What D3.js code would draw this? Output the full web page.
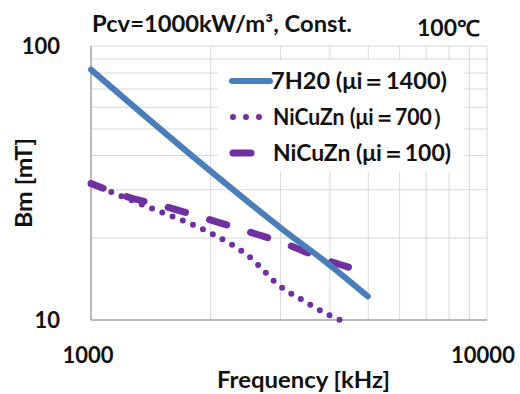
<!DOCTYPE html>
<html>
<head>
<meta charset="utf-8">
<script src="https://cdn.jsdelivr.net/npm/d3@7"></script>
<style>
  body { margin: 0; background: #fff; }
  text { font-family: Lato, "Open Sans", sans-serif; font-weight: bold; fill: #111; }
</style>
</head>
<body>
<svg id="chart" width="520" height="394"></svg>
<script>
// values
const freq7H20 = [1000, 2000, 3000, 4000, 5000];
const bm7H20 = [82, 35, 21.8, 15.9, 12.2];

const freqCu700 = [1000, 1200, 1500, 2000, 2500, 3000, 3500, 4000, 4250];
const bmCu700 = [31.5, 28.2, 24.8, 20.8, 17.1, 13.3, 11.6, 10.4, 10];

const freqCu100 = [1000, 1250, 1500, 2000, 2500, 3000, 4000, 5000];
const bmCu100 = [31.5, 28, 26.2, 23.2, 21, 19.3, 16.4, 14.9];

const seriesNames = ["7H20 (μi＝1400)", "NiCuZn (μi＝700）", "NiCuZn (μi＝100)"];
const xTicks = [1000, 10000];
const yTicks = [10, 100];

const margin = {left: 91, right: 33, top: 46, bottom: 74};
const W = 520, H = 394;
const svg = d3.select('#chart');

const x = d3.scaleLog().domain([1000, 10000]).range([margin.left, W - margin.right]);
const y = d3.scaleLog().domain([10, 100]).range([H - margin.bottom, margin.top]);

// grid
const gridX = d3.range(2000, 10000, 1000);
const gridY = d3.range(20, 100, 10);
svg.append('g')
    .attr('transform', `translate(0,${y(10)})`)
    .call(d3.axisBottom(x).tickValues(gridX).tickSize(-(y(10) - y(100))).tickFormat(''))
    .call(g => g.select('.domain').remove())
    .selectAll('line').attr('stroke', '#d9d9d9');
svg.append('g')
    .attr('transform', `translate(${x(1000)},0)`)
    .call(d3.axisLeft(y).tickValues(gridY).tickSize(-(x(10000) - x(1000))).tickFormat(''))
    .call(g => g.select('.domain').remove())
    .selectAll('line').attr('stroke', '#d9d9d9');

svg.append('rect')
    .attr('x', x(1000)).attr('y', y(100))
    .attr('width', x(10000) - x(1000)).attr('height', y(10) - y(100))
    .attr('fill', 'none').attr('stroke', '#d9d9d9');
svg.append('path')
    .attr('d', `M${x(1000)},${y(100)}V${y(10)}H${x(10000)}`)
    .attr('fill', 'none').attr('stroke', '#868686');

// tick labels
svg.selectAll('.ylab').data(yTicks).enter().append('text')
    .attr('x', 60).attr('y', d => y(d)).attr('dy', '0.36em')
    .attr('text-anchor', 'end').style('font-size', '22px').text(d => d);
svg.selectAll('.xlab').data(xTicks).enter().append('text')
    .attr('x', d => x(d) - (d === 10000 ? 4 : 3)).attr('y', 363)
    .attr('text-anchor', 'middle').style('font-size', '22px').text(d => d);

svg.append('text').attr('x', 217).attr('y', 388)
    .attr('textLength', 173).attr('lengthAdjust', 'spacingAndGlyphs')
    .style('font-size', '22px').text('Frequency [kHz]');
svg.append('text').attr('transform', 'translate(32,228) rotate(-90)')
    .attr('textLength', 90).attr('lengthAdjust', 'spacingAndGlyphs')
    .style('font-size', '22px').text('Bm [mT]');

svg.append('text').attr('x', 92).attr('y', 32)
    .attr('textLength', 260).attr('lengthAdjust', 'spacingAndGlyphs')
    .style('font-size', '22px').text('Pcv=1000kW/m³, Const.');
svg.append('text').attr('x', 417).attr('y', 36)
    .attr('textLength', 63).attr('lengthAdjust', 'spacingAndGlyphs')
    .style('font-size', '22px').text('100℃');

// lines
const blue = '#4a7ebb', purple = '#7030a0';
const line = d3.line().x(d => x(d[0])).y(d => y(d[1])).curve(d3.curveMonotoneX);
const plot = svg.append('g');

plot.append('path')
    .datum(d3.zip(freqCu100, bmCu100))
    .attr('d', line).attr('fill', 'none')
    .attr('stroke', purple).attr('stroke-width', 7)
    .attr('stroke-dasharray', '18,25').attr('stroke-dashoffset', -38)
    .attr('stroke-linecap', 'round');
plot.append('path')
    .datum(d3.zip(freqCu700, bmCu700))
    .attr('d', line).attr('fill', 'none')
    .attr('stroke', purple).attr('stroke-width', 6)
    .attr('stroke-dasharray', '0,11').attr('stroke-linecap', 'round');
plot.append('path')
    .datum(d3.zip(freq7H20, bm7H20))
    .attr('d', line).attr('fill', 'none')
    .attr('stroke', blue).attr('stroke-width', 6)
    .attr('stroke-linecap', 'round');

// legend
const leg = svg.append('g');
leg.append('rect').attr('x', 218).attr('y', 60).attr('width', 246).attr('height', 112).attr('fill', '#fff');
const rowsY = [81, 117, 153];
leg.append('line').attr('x1', 232).attr('x2', 270).attr('y1', rowsY[0]).attr('y2', rowsY[0])
    .attr('stroke', blue).attr('stroke-width', 6).attr('stroke-linecap', 'round');
leg.append('line').attr('x1', 233).attr('x2', 260).attr('y1', rowsY[1]).attr('y2', rowsY[1])
    .attr('stroke', purple).attr('stroke-width', 6).attr('stroke-dasharray', '0,13').attr('stroke-linecap', 'round');
leg.append('line').attr('x1', 233).attr('x2', 251).attr('y1', rowsY[2]).attr('y2', rowsY[2])
    .attr('stroke', purple).attr('stroke-width', 7).attr('stroke-linecap', 'round');
const lens = [176, 180, 178];
leg.selectAll('.lt').data(seriesNames).enter().append('text')
    .attr('x', (d, i) => i === 0 ? 271 : 273).attr('y', (d, i) => rowsY[i]).attr('dy', '0.36em')
    .attr('textLength', (d, i) => lens[i]).attr('lengthAdjust', 'spacingAndGlyphs')
    .style('font-size', '23px').text(d => d);
</script>
</body>
</html>
